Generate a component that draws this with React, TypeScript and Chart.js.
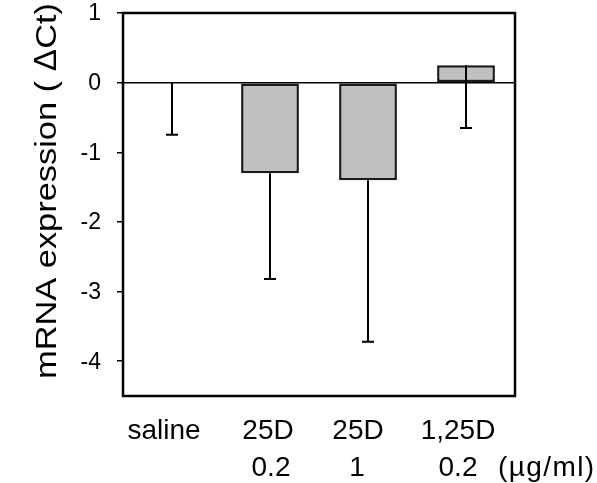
import React, { useEffect, useRef } from "react";
import { Chart, registerables } from "chart.js";

Chart.register(...registerables);

// ---- data ----
const categories: string[] = ["saline", "25D 0.2", "25D 1", "1,25D 0.2"];
const labelLine1: string[] = ["saline", "25D", "25D", "1,25D"];
const labelLine2: string[] = ["", "0.2", "1", "0.2"];
const unitLabel = "(µg/ml)";
const values: number[] = [0, -1.3, -1.4, 0.25];
const errorsDown: number[] = [0.75, 1.52, 2.32, 0.9];
const yTicks: number[] = [1, 0, -1, -2, -3, -4];
const yMin = -4.5;
const yMax = 1;
const yTitleParts: string[] = ["mRNA expression ( ", "Δ", "Ct)"];

const FONT = "'Liberation Sans', Arial, Helvetica, sans-serif";

const decorPlugin = {
  id: "decor",
  afterDatasetsDraw(chart: any) {
    const ctx: CanvasRenderingContext2D = chart.ctx;
    const yScale = chart.scales.y;
    const xScale = chart.scales.x;
    const meta = chart.getDatasetMeta(0);
    const a = chart.chartArea;
    ctx.save();
    // error bars
    ctx.strokeStyle = "#000";
    ctx.lineWidth = 2;
    meta.data.forEach((bar: any, i: number) => {
      const x = bar.x;
      const y1 = yScale.getPixelForValue(values[i]);
      const y2 = yScale.getPixelForValue(values[i] - errorsDown[i]);
      ctx.beginPath();
      ctx.moveTo(x, y1);
      ctx.lineTo(x, y2);
      ctx.moveTo(x - 6, y2);
      ctx.lineTo(x + 6, y2);
      ctx.stroke();
    });
    // frame
    ctx.lineWidth = 2.5;
    ctx.strokeRect(a.left, a.top, a.right - a.left, a.bottom - a.top);

    // y tick labels
    ctx.fillStyle = "#000";
    ctx.font = `23px ${FONT}`;
    ctx.textAlign = "right";
    ctx.textBaseline = "middle";
    yTicks.forEach((v) => {
      ctx.fillText(String(v), a.left - 22, yScale.getPixelForValue(v) + 1);
    });

    // x labels
    ctx.font = `28px ${FONT}`;
    ctx.textAlign = "center";
    ctx.textBaseline = "alphabetic";
    const off1 = [-8, -2, -10, -8];
    const off2 = [0, 1, -11, -8];
    categories.forEach((_, i) => {
      const cx = xScale.getPixelForValue(i);
      ctx.fillText(labelLine1[i], cx + off1[i], a.bottom + 43);
      if (labelLine2[i]) ctx.fillText(labelLine2[i], cx + off2[i], a.bottom + 80);
    });
    ctx.textAlign = "left";
    (ctx as any).letterSpacing = "1.4px";
    ctx.fillText(unitLabel, xScale.getPixelForValue(3) + 32, a.bottom + 80);
    (ctx as any).letterSpacing = "0px";

    // y title (rotated)
    const fonts = [`30px ${FONT}`, `30px 'Noto Sans CJK JP', ${FONT}`, `30px ${FONT}`];
    let total = 0;
    const widths = yTitleParts.map((p, i) => {
      ctx.font = fonts[i];
      const w = ctx.measureText(p).width;
      total += w;
      return w;
    });
    const targetLen = 376;
    ctx.translate(56, 191);
    ctx.rotate(-Math.PI / 2);
    ctx.scale(targetLen / total, 1);
    let x = -total / 2;
    yTitleParts.forEach((p, i) => {
      ctx.font = fonts[i];
      ctx.textAlign = "left";
      ctx.fillText(p, x, 0);
      x += widths[i];
    });
    ctx.restore();
  },
};

export default function App() {
  const ref = useRef<HTMLCanvasElement | null>(null);
  useEffect(() => {
    if (!ref.current) return;
    const chart = new Chart(ref.current, {
      type: "bar",
      data: {
        labels: categories,
        datasets: [
          {
            data: values,
            backgroundColor: "#c0c0c0",
            borderColor: "#1a1a1a",
            borderWidth: 2.5,
            borderSkipped: false,
            categoryPercentage: 1,
            barPercentage: 0.59,
          },
        ],
      },
      options: {
        responsive: false,
        animation: false,
        devicePixelRatio: 1,
        layout: { padding: { top: 13, right: 82, left: 0, bottom: 0 } },
        plugins: { legend: { display: false }, tooltip: { enabled: false } },
        scales: {
          x: {
            ticks: { display: false },
            grid: { display: false },
            border: { display: false },
            afterFit: (s: any) => {
              s.height = 87;
              s.paddingLeft = 0;
              s.paddingRight = 0;
            },
          },
          y: {
            min: yMin,
            max: yMax,
            afterBuildTicks: (s: any) => {
              s.ticks = yTicks.map((v) => ({ value: v }));
            },
            afterFit: (s: any) => {
              s.width = 123;
              s.paddingTop = 0;
              s.paddingBottom = 0;
            },
            ticks: { display: false },
            grid: {
              drawOnChartArea: true,
              color: (c: any) => (c.tick && c.tick.value === 0 ? "#000" : "rgba(0,0,0,0)"),
              lineWidth: 1.5,
              tickColor: "#000",
              tickLength: 6,
              drawTicks: true,
            },
            border: { display: false },
          },
        },
      },
      plugins: [decorPlugin],
    });
    return () => chart.destroy();
  }, []);
  return (
    <div style={{ position: "absolute", left: 0, top: 0, width: 597, height: 483, background: "#fff" }}>
      <canvas ref={ref} width={597} height={483} style={{ display: "block" }} />
    </div>
  );
}
